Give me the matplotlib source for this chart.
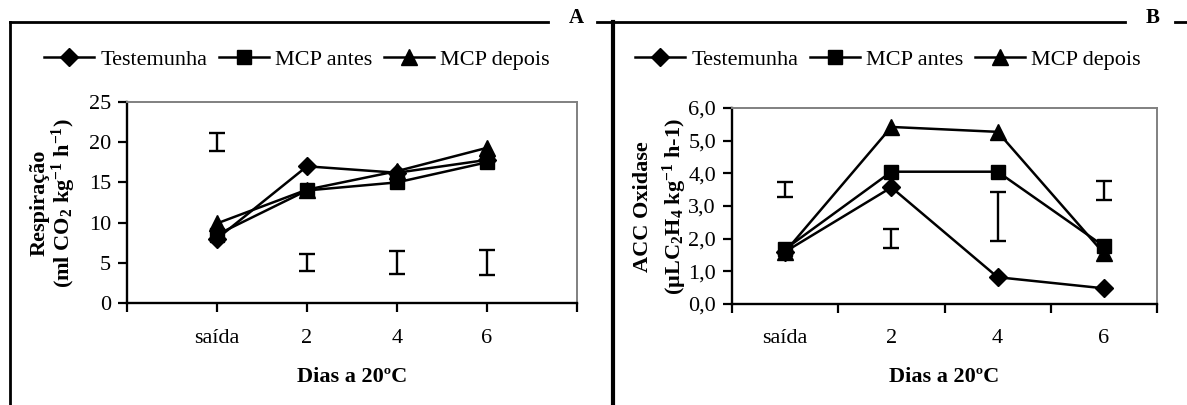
import matplotlib
matplotlib.use('Agg')
import matplotlib.pyplot as plt
from matplotlib.lines import Line2D
from matplotlib.ticker import FuncFormatter

plt.rcParams['font.family'] = ['Liberation Serif', 'DejaVu Serif']
plt.rcParams['mathtext.default'] = 'regular'

dias = ['saída', '2', '4', '6']
series = ['Testemunha', 'MCP antes', 'MCP depois']

# respiração (ml CO2 kg-1 h-1)
resp_testemunha = [8.0, 17.0, 16.2, 17.8]
resp_mcp_antes = [8.5, 14.0, 15.0, 17.5]
resp_mcp_depois = [9.9, 14.1, 16.4, 19.3]
resp_dms_centro = [20.0, 5.0, 5.0, 5.0]
resp_dms_meio = [1.15, 1.05, 1.45, 1.55]

# ACC oxidase (uL C2H4 kg-1 h-1)
acc_testemunha = [1.6, 3.57, 0.82, 0.48]
acc_mcp_antes = [1.68, 4.05, 4.05, 1.77]
acc_mcp_depois = [1.6, 5.42, 5.27, 1.55]
acc_dms_centro = [3.5, 2.0, 2.68, 3.47]
acc_dms_meio = [0.22, 0.29, 0.74, 0.3]

marcadores = ['D', 's', '^']
tamanhos = [9.5, 10, 11]
FS = 16

W, H = 1187, 405
fig = plt.figure(figsize=(W / 100, H / 100), dpi=100)


def px(x, y):
    return x / W, 1 - y / H


def estilo_eixo(ax):
    for lado in ['left', 'bottom']:
        ax.spines[lado].set_color('black')
        ax.spines[lado].set_linewidth(1.7)
    for lado in ['top', 'right']:
        ax.spines[lado].set_color('#808080')
        ax.spines[lado].set_linewidth(1.4)
    ax.tick_params(axis='both', which='major', direction='out', length=6.5,
                   width=1.6, labelsize=FS)
    ax.tick_params(axis='x', which='major', pad=11)
    ax.tick_params(axis='y', which='major', pad=5)


def desenha(ax, xs, valores, centro, meio):
    for vals, m, s, nome in zip(valores, marcadores, tamanhos, series):
        ax.plot(xs, vals, color='black', lw=1.8, marker=m, markersize=s,
                markerfacecolor='black', markeredgecolor='black', label=nome)
    ax.errorbar(xs, centro, yerr=meio, fmt='none', ecolor='black',
                elinewidth=1.7, capsize=5.5, capthick=1.7)


# painel A
ax1 = fig.add_axes([127 / W, 1 - 303 / H, 450 / W, 201 / H])
x1 = [1, 2, 3, 4]
desenha(ax1, x1, [resp_testemunha, resp_mcp_antes, resp_mcp_depois],
        resp_dms_centro, resp_dms_meio)
ax1.set_xlim(0, 5)
ax1.set_ylim(0, 25)
ax1.set_yticks(range(0, 26, 5))
ax1.set_xticks(range(0, 6))
ax1.set_xticklabels([''] + dias + [''])
estilo_eixo(ax1)
ax1.tick_params(axis='x', which='major', pad=12)
ax1.set_xlabel('Dias a 20ºC', fontsize=FS, fontweight='bold', labelpad=14)

# painel B
ax2 = fig.add_axes([732 / W, 1 - 304 / H, 425 / W, 196 / H])
x2 = [0.5, 1.5, 2.5, 3.5]
desenha(ax2, x2, [acc_testemunha, acc_mcp_antes, acc_mcp_depois],
        acc_dms_centro, acc_dms_meio)
ax2.set_xlim(0, 4)
ax2.set_ylim(0, 6)
ax2.set_yticks(range(0, 7))
ax2.yaxis.set_major_formatter(FuncFormatter(lambda v, p: f'{v:.1f}'.replace('.', ',')))
ax2.set_xticks(range(0, 5))
ax2.set_xticklabels([])
ax2.set_xticks(x2, minor=True)
ax2.set_xticklabels(dias, minor=True)
estilo_eixo(ax2)
ax2.tick_params(axis='x', which='minor', length=0, labelsize=FS, pad=18)
ax2.set_xlabel('Dias a 20ºC', fontsize=FS, fontweight='bold', labelpad=14)

# rótulos do eixo y
fig.text(*px(40, 203), 'Respiração', rotation=90, ha='center', va='center',
         fontsize=FS, fontweight='bold')
fig.text(*px(64, 203), '(ml CO$_2$ kg$^{-1}$ h$^{-1}$)', rotation=90, ha='center',
         va='center', fontsize=FS, fontweight='bold')
fig.text(*px(643, 207), 'ACC Oxidase', rotation=90, ha='center', va='center',
         fontsize=FS, fontweight='bold')
fig.text(*px(675, 207), '(µLC$_2$H$_4$ kg$^{-1}$ h-1)', rotation=90, ha='center',
         va='center', fontsize=FS, fontweight='bold')

# legendas
for ax, cx in [(ax1, 297), (ax2, 888)]:
    ax.legend(loc='center', bbox_to_anchor=px(cx, 60),
              bbox_transform=fig.transFigure, ncol=3, frameon=False,
              fontsize=FS, numpoints=1, handlelength=2.25, handletextpad=0.3,
              columnspacing=0.5)

# molduras dos painéis
molduras = [
    ([10, 10], [405, 22], 2.0),
    ([10, 548], [22, 22], 2.0),
    ([597, 1125], [22, 22], 2.0),
    ([613, 613], [22, 405], 3.0),
    ([1175, 1187], [22, 22], 2.0),
]
for xs, ys, lw in molduras:
    fig.add_artist(Line2D([x / W for x in xs], [1 - y / H for y in ys],
                          color='black', lw=lw, transform=fig.transFigure))
fig.text(*px(576, 18), 'A', ha='center', va='center', fontsize=FS - 1,
         fontweight='bold')
fig.text(*px(1153, 18), 'B', ha='center', va='center', fontsize=FS - 1,
         fontweight='bold')

fig.savefig('out.png', dpi=100)
